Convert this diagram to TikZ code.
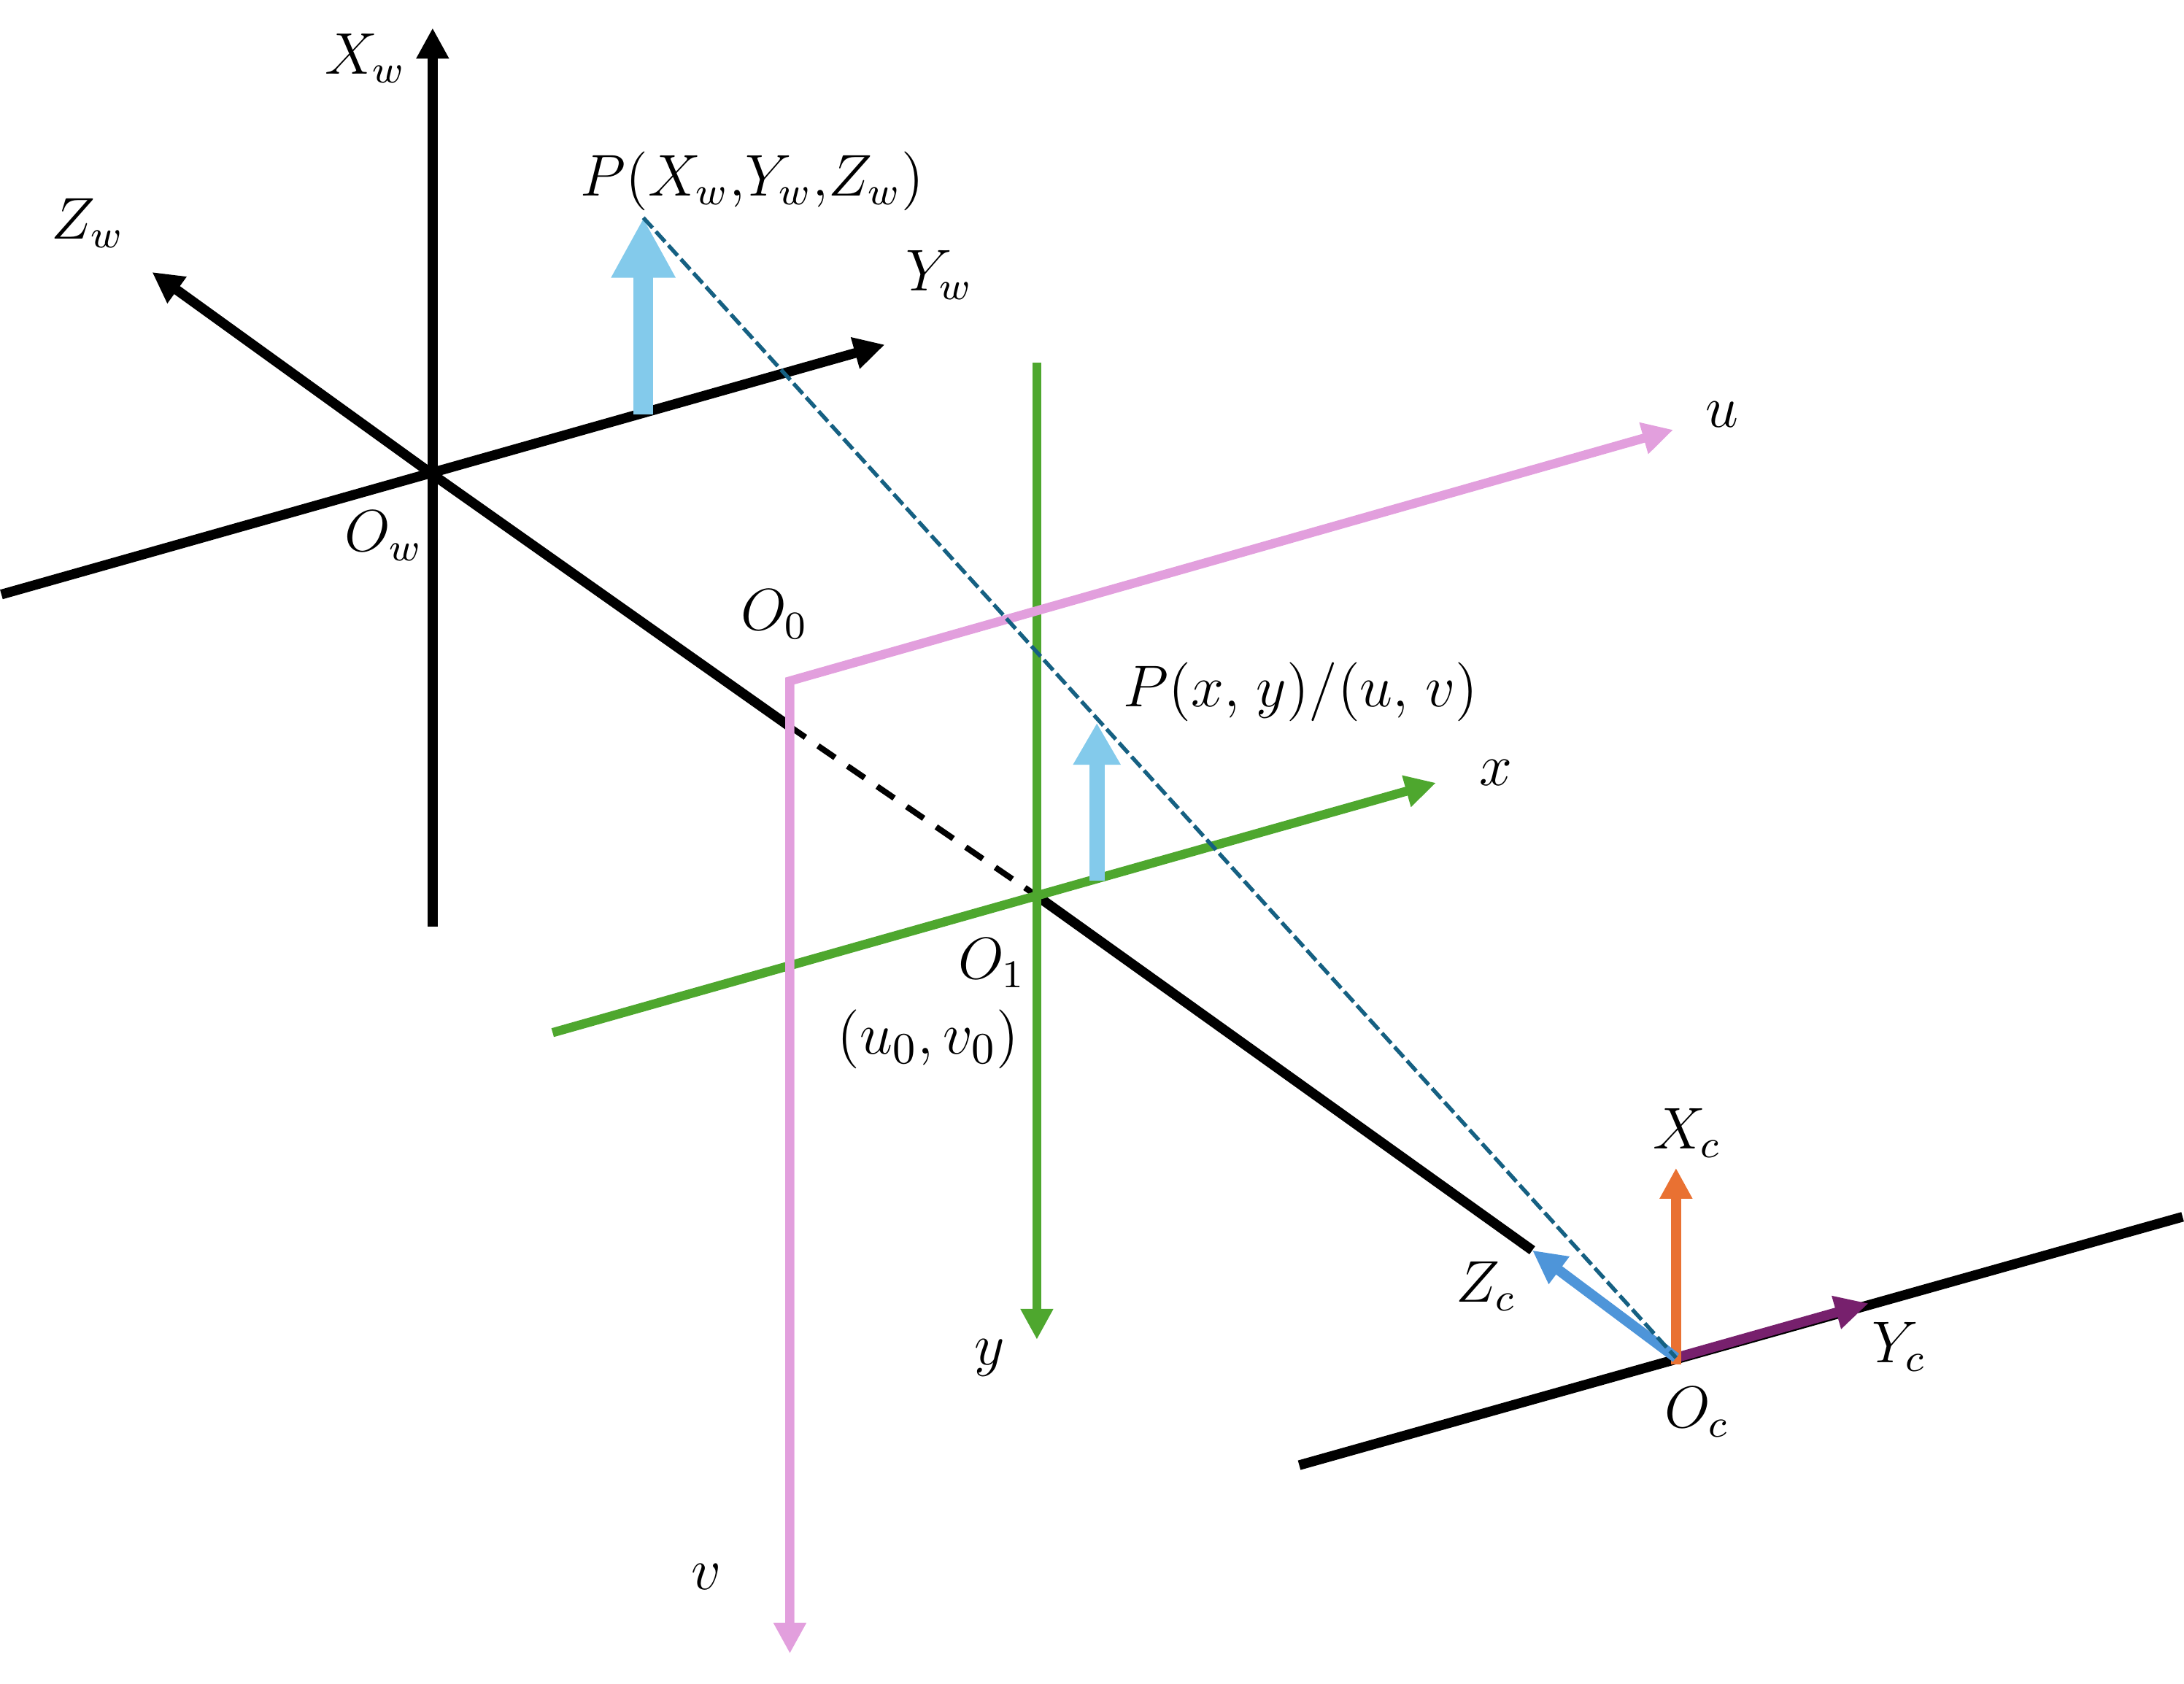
\documentclass[tikz,border=0pt]{standalone}
\usepackage{amsmath, amsfonts, amssymb}
\usepackage{xcolor}
\usepackage{tikz}
\usetikzlibrary{arrows.meta}

\definecolor{axispink}{HTML}{E29FDD}
\definecolor{axisgreen}{HTML}{4EA72E}
\definecolor{pointblue}{HTML}{83CAEB}
\definecolor{camorange}{HTML}{E97132}
\definecolor{camblue}{HTML}{4E95D9}
\definecolor{campurple}{HTML}{77206D}
\definecolor{rayteal}{HTML}{156082}

\tikzset{
	axisblack/.style={line width=2pt,color=black},
	axisplane/.style={line width=1.85pt},
	tipsmall/.style={-{Triangle[length=0.22cm,width=0.22cm]}},
	axislabel/.style={inner sep=0pt,font=\fontsize{11.5}{13}\selectfont},
}

\begin{document}
\begin{tikzpicture}[x=0.01cm,y=-0.01cm]

\useasboundingbox (0,0) rectangle (1565,1206.3);

% world axes
\coordinate (Ow) at (310,340);
\coordinate (XwEnd) at (310,20);
\coordinate (XwBack) at (310,664);
\coordinate (ZwEnd) at (109,195);
\coordinate (YwEnd) at (634,247);
\coordinate (YwBack) at (1,426);
\coordinate (Oone) at (743,642);
\coordinate (Cross) at (565,520);
\coordinate (ZcTip) at (1098,896);
\coordinate (Oc) at (1201,973);

\draw[axisblack,tipsmall] (XwBack) -- (XwEnd);
\draw[axisblack,tipsmall] (Ow) -- (ZwEnd);
\draw[axisblack,tipsmall] (YwBack) -- (YwEnd);
\draw[axisblack] (Ow) -- (Cross);
\draw[line width=1.2pt,dash pattern=on 4.2pt off 3.1pt] (Cross) -- (Oone);
\draw[axisblack] (Oone) -- (ZcTip);

% camera baseline
\coordinate (BaseA) at (931,1050);
\coordinate (BaseB) at (1564,872);
\draw[axisblack] (BaseA) -- (BaseB);

% image plane
\coordinate (GreenTop) at (743,260);
\coordinate (GreenEnd) at (743,960);
\coordinate (GreenBack) at (396,740);
\coordinate (GreenX) at (1029,561);
\draw[axisplane,axisgreen,tipsmall] (GreenTop) -- (GreenEnd);
\draw[axisplane,axisgreen,tipsmall] (GreenBack) -- (GreenX);

% pixel plane
\coordinate (Ozero) at (566,488);
\coordinate (UEnd) at (1199,308);
\coordinate (VEnd) at (566,1185);
\draw[axisplane,axispink,{Triangle[length=0.22cm,width=0.22cm]}-{Triangle[length=0.22cm,width=0.22cm]}] (UEnd) -- (Ozero) -- (VEnd);

% point arrows
\coordinate (BigFoot) at (461,297);
\coordinate (BigTip) at (461,156);
\coordinate (SmallFoot) at (786,631);
\coordinate (SmallTip) at (786,518);
\draw[pointblue,line width=4pt,-{Triangle[length=0.43cm,width=0.43cm]}] (BigFoot) -- (BigTip);
\draw[pointblue,line width=3.1pt,-{Triangle[length=0.3cm,width=0.32cm]}] (SmallFoot) -- (SmallTip);

% camera arrows
\draw[campurple,line width=2pt,-{Triangle[length=0.24cm,width=0.23cm]}] (Oc) -- (1339,934);
\draw[camorange,line width=2pt,-{Triangle[length=0.22cm,width=0.22cm]}] (1201,978) -- (1201,837);
\draw[camblue,line width=2.1pt,-{Triangle[length=0.24cm,width=0.23cm]}] (Oc) -- (ZcTip);

% ray
\draw[rayteal,line width=0.8pt,dash pattern=on 2.8pt off 1pt] (BigTip) -- (Oc);

% labels
\node[axislabel] (lXw) at (262,42) {$X_w$};
\node[axislabel] (lZw) at (63,160) {$Z_w$};
\node[axislabel] (lP) at (539,130) {$P(X_w{,}Y_w{,}Z_w)$};
\node[axislabel] (lYw) at (673,197) {$Y_w$};
\node[axislabel] (lOw) at (275,384) {$O_w$};
\node[axislabel] (lOzero) at (555,440) {$O_0$};
\node[axislabel] (lu) at (1234,297) {$u$};
\node[axislabel] (lPxy) at (932,496) {$P(x,\mkern2mu y)/(u,\mkern2mu v)$};
\node[axislabel] (lx) at (1072,554) {$x$};
\node[axislabel] (lOone) at (711,690) {$O_1$};
\node[axislabel,font=\fontsize{12.5}{14}\selectfont] (luv) at (665,745) {$(u_0,v_0)$};
\node[axislabel] (ly) at (709,973) {$y$};
\node[axislabel] (lv) at (506,1130) {$v$};
\node[axislabel] (lXc) at (1209,812) {$X_c$};
\node[axislabel] (lZc) at (1065,922) {$Z_c$};
\node[axislabel] (lYc) at (1361,965) {$Y_c$};
\node[axislabel] (lOc) at (1216,1012) {$O_c$};

\end{tikzpicture}
\end{document}
